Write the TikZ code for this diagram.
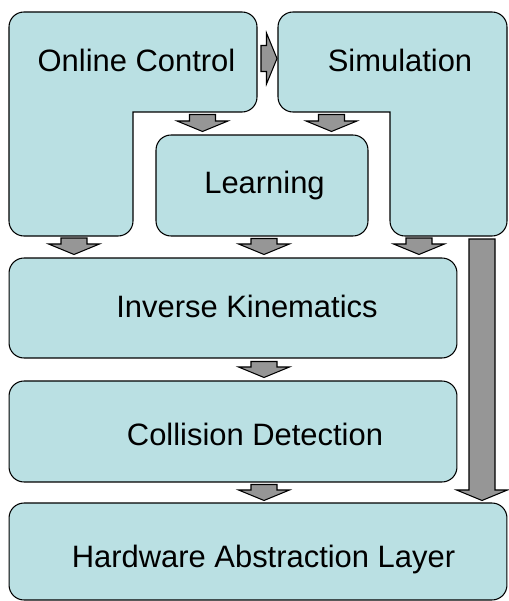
\documentclass[tikz,border=0pt]{standalone}
\usepackage{fontspec}
\setmainfont{Liberation Sans}
\usetikzlibrary{calc}
\definecolor{panelfill}{RGB}{186,224,227}
\definecolor{arrowfill}{RGB}{150,150,150}
\tikzset{
  panel/.style={draw=black, fill=panelfill, line width=0.6pt},
  roundbox/.style={panel, rounded corners=0.3cm, inner sep=0pt},
  txt/.style={font=\fontsize{17.6}{21}\selectfont, anchor=base, inner sep=0pt},
  fatarrow/.style={draw=black, fill=arrowfill, line width=0.6pt, line join=miter}
}
\newcommand{\fatarrow}[2]{%
  \path (#1) coordinate (fa-s) (#2) coordinate (fa-e);
  \path ($(fa-e)!0.21cm!(fa-s)$) coordinate (fa-b);
  \draw[fatarrow] ($(fa-s)!0.26cm!90:(fa-e)$) -- ($(fa-b)!0.26cm!90:(fa-e)$)
    -- ($(fa-b)!0.51cm!90:(fa-e)$) -- (fa-e) -- ($(fa-b)!0.51cm!-90:(fa-e)$)
    -- ($(fa-b)!0.26cm!-90:(fa-e)$) -- ($(fa-s)!0.26cm!-90:(fa-e)$) -- cycle;}
\begin{document}
\begin{tikzpicture}[x=0.02cm, y=-0.02cm]
  \useasboundingbox (0,0) rectangle (508,601);
  \draw[panel] (133,112) [rounded corners=0.3cm] -- (257,112) -- (257,12) coordinate (oc-ne)
    -- (9,12) -- (9,236) coordinate (oc-sw) -- (133,236) [sharp corners] -- cycle;
  \draw[panel] (390,112) [rounded corners=0.3cm] -- (278,112) -- (278,12) coordinate (sim-nw)
    -- (507,12) -- (507,236) coordinate (sim-se) -- (390,236) coordinate (sim-sw) [sharp corners] -- cycle;
  \node[roundbox, minimum width=4.24cm, minimum height=2.02cm] (learn) at (262,185.5) {};
  \node[roundbox, minimum width=8.96cm, minimum height=2.0cm] (ik) at (233,308) {};
  \node[roundbox, minimum width=8.96cm, minimum height=2.02cm] (cd) at (233,431.5) {};
  \node[roundbox, minimum width=9.96cm, minimum height=1.94cm] (hal) at (258,551.5) {};
  \node[txt] (oc-text) at (136.5,72) {Online Control};
  \node[txt] (sim-text) at (400,72) {Simulation};
  \node[txt] (learn-text) at (264.5,194) {Learning};
  \node[txt] (ik-text) at (247,317) {Inverse Kinematics};
  \node[txt] (cd-text) at (255,445) {Collision Detection};
  \node[txt] (hal-text) at (263.5,567) {Hardware Abstraction Layer};
  \fatarrow{$(oc-ne)+(4,46.5)$}{$(sim-nw)+(-1,46.5)$}
  \fatarrow{$(learn.north west)+(47,-20)$}{$(learn.north west)+(47,-3)$}
  \fatarrow{$(learn.north east)+(-37,-20)$}{$(learn.north east)+(-37,-3)$}
  \fatarrow{$(oc-sw)+(65,2)$}{$(oc-sw |- ik.north)+(65,-3)$}
  \fatarrow{$(learn.south)+(2,2)$}{$(learn.south |- ik.north)+(2,-3)$}
  \fatarrow{$(sim-sw)+(29,2)$}{$(sim-sw |- ik.north)+(29,-3)$}
  \fatarrow{$(ik.south)+(31,3)$}{$(cd.north)+(31,-3)$}
  \fatarrow{$(cd.south)+(31,2)$}{$(cd.south |- hal.north)+(31,-2)$}
  \fatarrow{$(sim-se)+(-25,3)$}{$(sim-se |- hal.north)+(-25,-2)$}
\end{tikzpicture}
\end{document}
